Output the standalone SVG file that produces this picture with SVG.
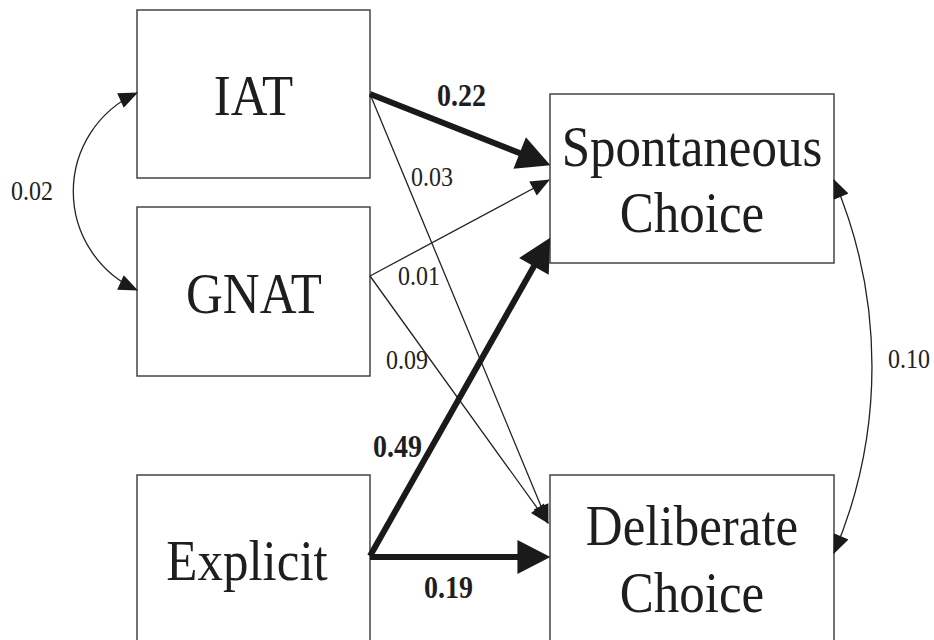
<svg xmlns="http://www.w3.org/2000/svg" width="934" height="640" viewBox="0 0 934 640">
<defs>
<style>
.box{fill:#fff;stroke:#444;stroke-width:1.5}
.big{font-family:"Liberation Serif","Times New Roman",serif;font-size:51px;fill:#1e1e1e;text-anchor:middle}
.lbl{font-family:"Liberation Serif","Times New Roman",serif;font-size:24px;fill:#222}
.blbl{font-family:"Liberation Serif","Times New Roman",serif;font-size:28px;font-weight:bold;fill:#1e1e1e}
.thin{fill:none;stroke:#222;stroke-width:1.3}
.thick{fill:none;stroke:#1a1a1a;stroke-width:6}
</style>
<marker id="ah" markerUnits="userSpaceOnUse" markerWidth="20" markerHeight="16" viewBox="0 0 18 15" refX="17" refY="7.5" orient="auto-start-reverse">
<path d="M0,0 L18,7.5 L0,15 Z" fill="#1a1a1a"/>
</marker>
<marker id="ahb" markerUnits="userSpaceOnUse" markerWidth="34" markerHeight="34" viewBox="0 0 31 32" refX="25" refY="16" orient="auto">
<path d="M0,0 L31,16 L0,32 Z" fill="#1a1a1a"/>
</marker>
</defs>
<rect width="934" height="640" fill="#fff"/>
<g id="node-iat">
<rect class="box" x="137" y="10" width="233" height="168"/>
<text class="big" transform="translate(253.5,115) scale(1,1.1)">IAT</text>
</g>
<g id="node-gnat">
<rect class="box" x="137" y="207" width="233" height="169"/>
<text class="big" transform="translate(254,313) scale(1,1.1)">GNAT</text>
</g>
<g id="node-explicit">
<rect class="box" x="137" y="475" width="233" height="175"/>
<text class="big" transform="translate(247,580) scale(1,1.1)">Explicit</text>
</g>
<g id="node-spontaneous">
<rect class="box" x="550" y="94" width="284" height="169"/>
<text class="big" transform="translate(692,166) scale(1,1.1)">Spontaneous</text>
<text class="big" transform="translate(692,232) scale(1,1.1)">Choice</text>
</g>
<g id="node-deliberate">
<rect class="box" x="550" y="475" width="284" height="175"/>
<text class="big" transform="translate(692,545) scale(1,1.1)">Deliberate</text>
<text class="big" transform="translate(692,612) scale(1,1.1)">Choice</text>
</g>
<g id="connectors">
<line class="thin" x1="370" y1="94" x2="548" y2="523" marker-end="url(#ah)"/>
<line class="thin" x1="370" y1="276" x2="549" y2="180" marker-end="url(#ah)"/>
<line class="thin" x1="370" y1="276" x2="548" y2="523" marker-end="url(#ah)"/>
<line class="thick" x1="370" y1="94" x2="544.4" y2="162.8" marker-end="url(#ahb)"/>
<line class="thick" x1="370" y1="556" x2="547" y2="243.2" marker-end="url(#ahb)"/>
<line class="thick" x1="370" y1="557" x2="544" y2="557" marker-end="url(#ahb)"/>
<path class="thin" d="M137,93 A108,108 0 0 0 137,290" marker-start="url(#ah)" marker-end="url(#ah)"/>
<path class="thin" d="M834,180 A477,477 0 0 1 834,553" marker-start="url(#ah)" marker-end="url(#ah)"/>
</g>
<g id="labels">
<text class="lbl" transform="translate(11,200) scale(1,1.1)">0.02</text>
<text class="blbl" transform="translate(437,106) scale(1,1.1)">0.22</text>
<text class="lbl" transform="translate(411,186) scale(1,1.1)">0.03</text>
<text class="lbl" transform="translate(398,285) scale(1,1.1)">0.01</text>
<text class="lbl" transform="translate(386,369) scale(1,1.1)">0.09</text>
<text class="blbl" transform="translate(373,457) scale(1,1.1)">0.49</text>
<text class="blbl" transform="translate(424,598) scale(1,1.1)">0.19</text>
<text class="lbl" transform="translate(888,368) scale(1,1.1)">0.10</text>
</g>
</svg>
